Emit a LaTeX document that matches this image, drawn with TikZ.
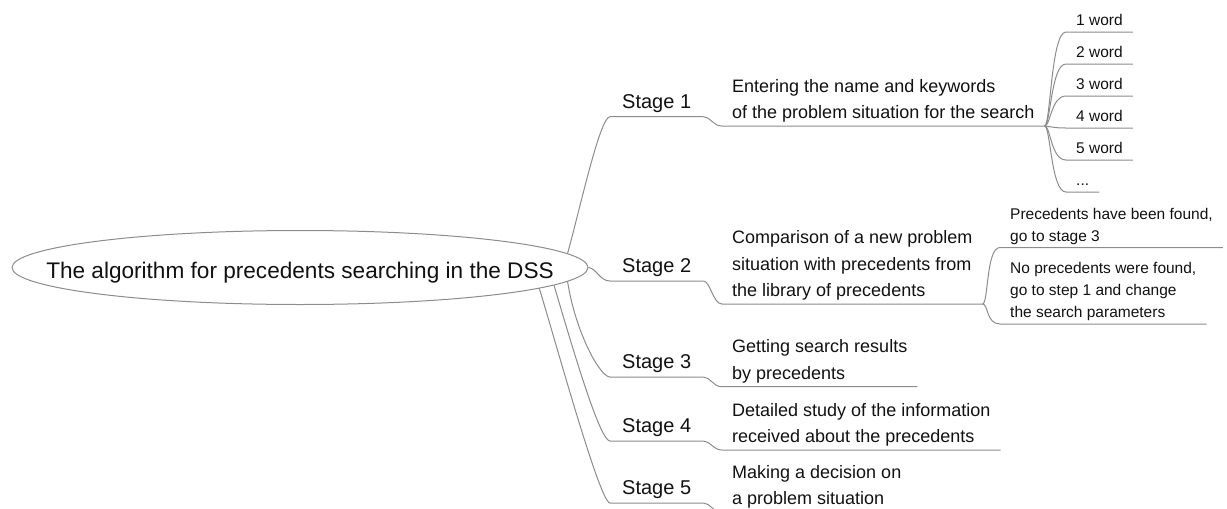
\documentclass[tikz,border=0pt]{standalone}
\usepackage{fontspec}
\setmainfont{Liberation Sans}
\usetikzlibrary{shapes.geometric}
\definecolor{mmline}{HTML}{8C8C8C}
\definecolor{mmtext}{HTML}{111111}
\tikzset{
  branch/.style={draw=mmline,line width=1pt},
  topic/.style={ellipse,draw=mmline,line width=1pt,minimum width=576pt,minimum height=74pt,inner sep=0pt,font=\fontsize{22.6}{27}\selectfont,text=mmtext},
  foot/.style={inner ysep=0pt,anchor=south west,align=left,text=mmtext,execute at end node={\rule[-#1]{0pt}{0pt}}},
  stagelbl/.style={foot=8pt,inner xsep=12pt,font=\fontsize{20}{24}\selectfont},
  stagetxt/.style={foot=7.5pt,inner xsep=10pt,font=\fontsize{18}{26.3}\selectfont},
  leaf/.style={foot=6.3pt,inner xsep=10pt,font=\fontsize{15.5}{22}\selectfont},
}

\begin{document}
\begin{tikzpicture}[x=1pt,y=-1pt]
  \useasboundingbox (0,0) rectangle (1227,509);
  \node[topic] (root) at (300,267.5) {\makebox[0pt]{\raisebox{-10.8pt}[0pt][0pt]{The algorithm for precedents searching in the DSS}}};
  % stages
  \node[stagelbl] (s1) at (610,116.7) {Stage 1};
  \node[stagelbl] (s2) at (610,281) {Stage 2};
  \node[stagelbl] (s3) at (610,377) {Stage 3};
  \node[stagelbl] (s4) at (610,441) {Stage 4};
  \node[stagelbl] (s5) at (610,503) {Stage 5};
  \node[stagetxt] (d1) at (722,126) {Entering the name and keywords\\of the problem situation for the search};
  \node[stagetxt] (d2) at (722,304) {Comparison of a new problem\\situation with precedents from\\the library of precedents};
  \node[stagetxt] (d3) at (722,386.7) {Getting search results\\by precedents};
  \node[stagetxt] (d4) at (722,450) {Detailed study of the information\\received about the precedents};
  \node[stagetxt] (d5) at (722,512.5) {Making a decision on\\a problem situation};
  \draw[branch] (root.3.2) .. controls +(13,-47) and +(-10,0) .. (s1.south west) -- (s1.south east);
  \draw[branch] (root.east) .. controls +(8,1) and +(-10,0) .. (s2.south west) -- (s2.south east);
  \draw[branch] (root.357.7) .. controls +(8,51) and +(-10,0) .. (s3.south west) -- (s3.south east);
  \draw[branch] (root.356.5) .. controls +(20,68) and +(-10,0) .. (s4.south west) -- (s4.south east);
  \draw[branch] (root.355.1) .. controls +(18,59) and +(-10,0) .. (s5.south west) -- (s5.south east);
  \foreach \i in {1,...,5}
    \draw[branch] (s\i.south east) .. controls +(7,0) and +(-9,0) .. (d\i.south west) -- (d\i.south east);
  % keywords
  \foreach \i in {1,...,5} {
    \node[leaf] (w\i) at (1066,{32*\i}) {\i\ word};
    \draw[branch] (d1.south east) .. controls +(6,0) and +(-15,0) .. (w\i.south west) -- (w\i.south east);}
  \node[leaf] (w6) at (1066,192) {...};
  \draw[branch] (d1.south east) .. controls +(6,0) and +(-15,0) .. (w6.south west) -- (w6.south east);
  % outcomes of stage 2
  \node[leaf] (p1) at (1000,247.5) {Precedents have been found,\\go to stage 3};
  \node[leaf] (p2) at (1000,324) {No precedents were found,\\go to step 1 and change\\the search parameters};
  \draw[branch] (d2.south east) .. controls +(6,0) and +(-14,0) .. (p1.south west) -- (p1.south east);
  \draw[branch] (d2.south east) .. controls +(6,0) and +(-14,0) .. (p2.south west) -- (p2.south east);
\end{tikzpicture}
\end{document}
